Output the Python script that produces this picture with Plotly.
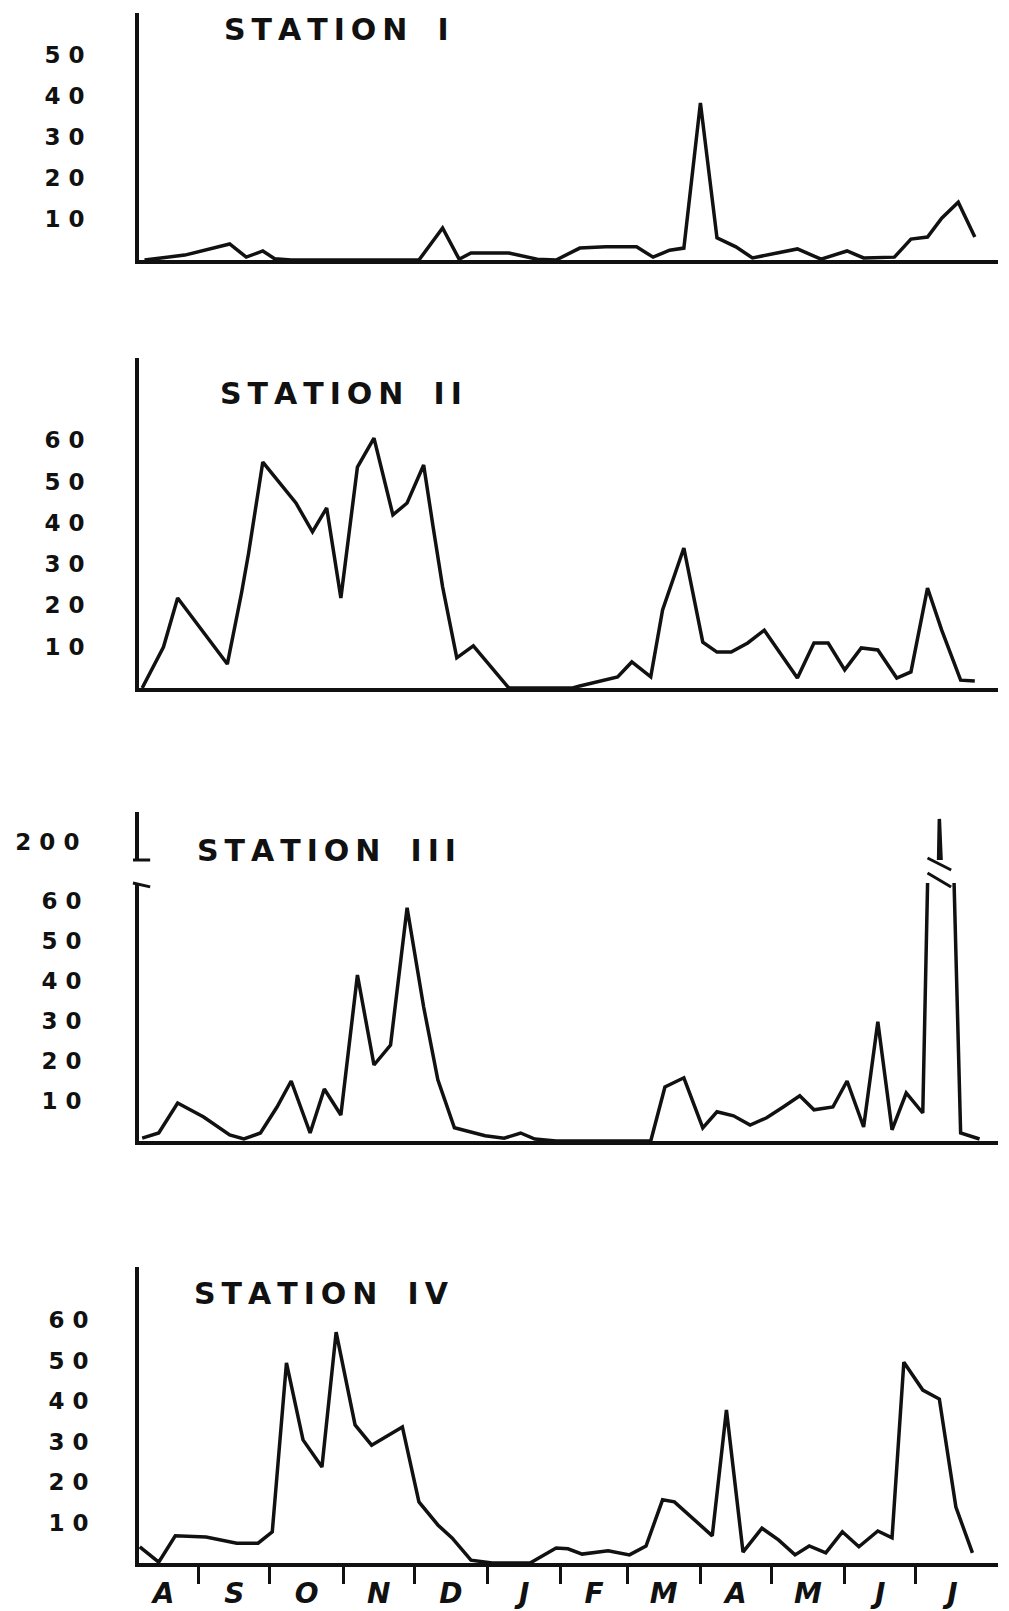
import plotly.graph_objects as go

# Sampling day (days after 1 August) and organism count for each station.
st1_day = [8, 25, 44, 51, 58, 63, 70, 124, 134, 141, 146, 162, 174, 182, 192, 203, 216, 223,
           230, 236, 243, 250, 258, 265, 284, 294, 305, 312, 325, 332, 339, 345, 352, 359]
st1_count = [0, 1.2, 3.9, 0.7, 2.2, 0.3, 0, 0, 7.8, 0.2, 1.7, 1.7, 0.2, 0, 2.9, 3.2, 3.2, 0.7,
             2.4, 2.9, 38.3, 5.4, 3.2, 0.5, 2.7, 0.2, 2.2, 0.5, 0.7, 5.1, 5.6, 10.2, 14.1, 5.6]

st2_day = [7, 16, 22, 33, 43, 49, 52, 58, 72, 79, 85, 91, 96, 98, 105, 113, 119, 126, 130, 134,
           140, 147, 162, 189, 192, 208, 214, 222, 227, 236, 244, 250, 256, 263, 270, 284, 291,
           297, 304, 311, 318, 326, 332, 339, 345, 353, 359]
st2_count = [0, 9.9, 21.8, 13.6, 5.8, 23.0, 32.7, 54.7, 44.8, 37.8, 43.6, 21.8, 43.8, 53.5, 60.5,
             41.9, 44.8, 54.0, 39.0, 24.5, 7.3, 10.2, 0, 0, 0.5, 2.7, 6.3, 2.7, 18.9, 33.9, 11.1,
             8.7, 8.7, 10.9, 14.0, 2.4, 10.9, 10.9, 4.4, 9.7, 9.2, 2.4, 3.9, 24.2, 14.0, 1.9, 1.7]

st3_day = [7, 14, 22, 33, 44, 50, 57, 64, 70, 78, 84, 91, 98, 105, 112, 119, 126, 132, 139, 152,
           160, 167, 173, 182, 222, 228, 236, 244, 250, 257, 264, 271, 278, 285, 291, 299, 305,
           312, 318, 324, 330, 337, 344, 353, 361]
st3_count = [0.7, 2.0, 9.5, 6.0, 1.5, 0.5, 2.0, 8.5, 15.0, 2.0, 13.0, 6.5, 41.5, 19.0, 24.0, 58.3,
             33.5, 15.3, 3.3, 1.3, 0.7, 2.0, 0.5, 0, 0, 13.5, 15.8, 3.3, 7.3, 6.3, 4.0, 5.8, 8.5,
             11.3, 7.8, 8.5, 15.0, 3.5, 29.8, 2.8, 12.0, 7.0, 205, 2.0, 0.5]

st4_day = [6, 14, 21, 34, 47, 56, 62, 68, 75, 83, 89, 97, 104, 117, 124, 132, 138, 146, 155, 171,
           182, 187, 193, 204, 213, 220, 227, 232, 248, 254, 261, 269, 276, 283, 289, 296, 303,
           310, 318, 324, 329, 337, 344, 351, 358]
st4_count = [4.0, 0.2, 6.7, 6.4, 4.9, 4.9, 7.7, 49.4, 30.4, 23.7, 57.0, 34.1, 29.1, 33.6, 15.1,
             9.4, 6.2, 0.7, 0, 0, 3.7, 3.5, 2.2, 3.0, 2.0, 4.2, 15.6, 15.1, 6.7, 37.8, 2.7, 8.6,
             5.7, 2.0, 4.2, 2.5, 7.7, 4.0, 7.9, 6.2, 49.6, 42.7, 40.5, 13.8, 2.5]

month_starts = [31, 61, 92, 122, 153, 184, 212, 243, 273, 304, 334]
month_mids = [16, 46, 76.5, 107, 137.5, 168.5, 198, 227.5, 258, 288.5, 319, 349.5]
month_letters = ["A", "S", "O", "N", "D", "J", "F", "M", "A", "M", "J", "J"]

y_ticks = [10, 20, 30, 40, 50, 60]
y_ticks_st1 = [10, 20, 30, 40, 50]
break_tick = [200]

W, H = 1009, 1611
INK = "#111111"
FONT = "DejaVu Sans"
X_RANGE = [5.66, 368.8]
X_DOMAIN = [139 / W, 998 / W]


def spaced(word):
    return "\u2009".join(word)


def digits(v):
    return " ".join(str(v))


def py(px):
    return 1 - px / H


fig = go.Figure()

series = [
    (st1_day, st1_count, "x", "y"),
    (st2_day, st2_count, "x2", "y2"),
    (st3_day, st3_count, "x3", "y3"),
    (st3_day, st3_count, "x5", "y5"),
    (st4_day, st4_count, "x4", "y4"),
]
for d, c, xa, ya in series:
    fig.add_trace(go.Scatter(x=d, y=c, mode="lines", xaxis=xa, yaxis=ya,
                             line=dict(color=INK, width=3.5), showlegend=False,
                             hoverinfo="skip"))

tick_font = dict(family=FONT, size=23, color=INK, weight="bold")


def xaxis(anchor, line=True, labels=False):
    ax = dict(range=X_RANGE, domain=X_DOMAIN, anchor=anchor, showgrid=False,
              zeroline=False, showline=line, linecolor=INK, linewidth=4,
              automargin=False, fixedrange=True)
    if labels:
        ax.update(tickmode="array", tickvals=month_mids, ticktext=month_letters,
                  ticks="", ticklabelstandoff=2,
                  tickfont=dict(family=FONT, size=28, color=INK, weight="bold",
                                style="italic"),
                  minor=dict(tickmode="array", tickvals=month_starts, ticks="outside",
                             ticklen=17, tickwidth=3, tickcolor=INK))
    else:
        ax.update(showticklabels=False, ticks="")
    return ax


def yaxis(anchor, dom, rng, vals, standoff=46, line=True):
    return dict(domain=[py(dom[0]), py(dom[1])], range=rng, anchor=anchor,
                showgrid=False, zeroline=False, showline=line, linecolor=INK,
                linewidth=4, ticks="", tickmode="array", tickvals=vals,
                ticktext=[digits(v) for v in vals], tickfont=tick_font,
                ticklabelstandoff=standoff, automargin=False, fixedrange=True)


fig.update_layout(
    width=W, height=H,
    margin=dict(l=0, r=0, t=0, b=0),
    paper_bgcolor="white", plot_bgcolor="white",
    xaxis=xaxis("y"),
    xaxis2=xaxis("y2"),
    xaxis3=xaxis("y3"),
    xaxis4=xaxis("y4", labels=True),
    xaxis5=xaxis("y5", line=False),
    yaxis=yaxis("x", (260, 13), [0, 60.2], y_ticks_st1),
    yaxis2=yaxis("x2", (688, 358), [0, 79.9], y_ticks),
    yaxis3=yaxis("x3", (1141, 883), [0, 64.5], y_ticks, standoff=49),
    yaxis5=yaxis("x5", (860, 812), [196.1, 206.5], break_tick, standoff=51),
    yaxis4=yaxis("x4", (1563, 1267), [0, 73.1], y_ticks, standoff=42),
)

# Panel titles
titles = [("I", 222, 30), ("II", 218, 393), ("III", 195, 850), ("IV", 192, 1293)]
for numeral, tx, ty in titles:
    fig.add_annotation(text=spaced("STATION") + "\u2003" + spaced(numeral),
                       x=tx / W, y=py(ty), xref="paper", yref="paper",
                       xanchor="left", yanchor="middle", showarrow=False,
                       font=dict(family=FONT, size=30, color=INK, weight="bold"))

# Axis break on Station III: serifs on the split y-axis and slashes across the tall peak
fig.add_shape(type="line", xref="x5 domain", yref="y5 domain", x0=-0.007, x1=0.013,
              y0=0, y1=0, line=dict(color=INK, width=3))
fig.add_shape(type="line", xref="x3 domain", yref="y3 domain", x0=-0.007, x1=0.013,
              y0=1, y1=0.985, line=dict(color=INK, width=3))
peak_day = st3_day[st3_count.index(max(st3_count))]
for y0, y1 in [(858, 870), (873, 887)]:
    fig.add_shape(type="line", xref="x3", yref="paper", x0=peak_day - 5, x1=peak_day + 5,
                  y0=py(y0), y1=py(y1), line=dict(color=INK, width=3))

fig.write_html("out.html")
